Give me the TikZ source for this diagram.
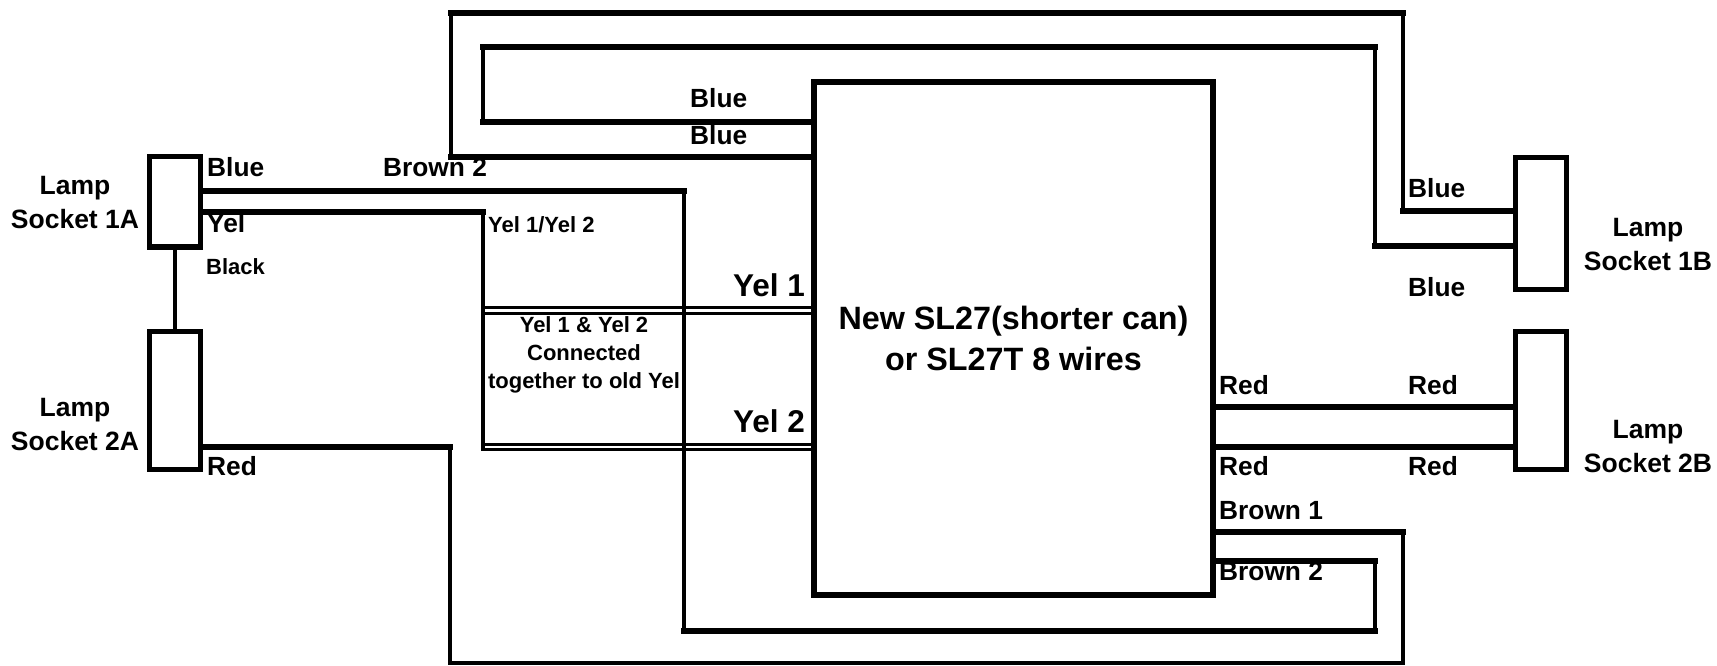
\documentclass[tikz,border=0pt]{standalone}
\usepackage{fontspec}
\setmainfont{Liberation Sans}
\tikzset{
    socket/.style={
    rectangle,draw=black,line width=5.5pt,minimum width=51pt,outer sep=0pt,inner sep=0pt
    },
    ballast/.style={
    rectangle,draw=black,line width=6pt,minimum width=399pt,minimum height=513pt,outer sep=0pt,inner sep=0pt
    },
    hwire/.style={
    line width=5.5pt,line cap=rect
    },
    vwire/.style={
    line width=3.2pt,line cap=rect
    },
    dwire/.style={
    line width=3pt
    },
    lbl/.style={
    anchor=base west,inner sep=0pt,font=\bfseries\fontsize{26.3}{34}\selectfont
    },
    smalllbl/.style={
    lbl,font=\bfseries\fontsize{22}{28}\selectfont
    },
    biglbl/.style={
    lbl,font=\bfseries\fontsize{31.5}{40}\selectfont
    },
    sockettxt/.style={
    anchor=base,align=center,inner sep=0pt,font=\bfseries\fontsize{26.5}{34}\selectfont
    },
}
\begin{document}
\begin{tikzpicture}[x=1pt,y=-1pt]
   \useasboundingbox (0,0) rectangle (1717,665);

   \node[socket,minimum height=90.5pt] (L1A) at (175,201.75) {};
   \node[socket,minimum height=138pt] (L2A) at (175,400.5) {};
   \node[socket,minimum height=132pt] (L1B) at (1541,223.5) {};
   \node[socket,minimum height=138pt] (L2B) at (1541,400.5) {};
   \node[ballast,align=center,font=\bfseries\fontsize{32.3}{41}\selectfont] (SL) at (1013.5,338.5) {New SL27(shorter can)\\or SL27T 8 wires};

   \node[sockettxt] (T1A) at (75,228) {Lamp\\Socket 1A};
   \node[sockettxt] (T2A) at (75,450) {Lamp\\Socket 2A};
   \node[sockettxt] (T1B) at (1648,270) {Lamp\\Socket 1B};
   \node[sockettxt] (T2B) at (1648,472) {Lamp\\Socket 2B};

   % left side
   \node[lbl] (lblue) at (207,176) {Blue};
   \node[lbl] (lbrown) at (383,176) {Brown 2};
   \node[lbl] (lyel) at (207,232) {Yel};
   \node[smalllbl] (lblack) at (206,274) {Black};
   \node[lbl] (lred) at (207,475) {Red};
   \node[smalllbl] (ly12) at (488,232) {Yel 1/Yel 2};
   \node[smalllbl,anchor=base,align=center] (lconn) at (584,388) {Yel 1 \& Yel 2\\Connected\\together to old Yel};
   \node[biglbl] (ly1) at (733,296) {Yel 1};
   \node[biglbl] (ly2) at (733,432) {Yel 2};
   \node[lbl] (lb1) at (690,107) {Blue};
   \node[lbl] (lb2) at (690,144) {Blue};

   % right side
   \node[lbl] (rb1) at (1408,197) {Blue};
   \node[lbl] (rb2) at (1408,296) {Blue};
   \node[lbl] (rr1) at (1219,394) {Red};
   \node[lbl] (rr2) at (1408,394) {Red};
   \node[lbl] (rr3) at (1219,475) {Red};
   \node[lbl] (rr4) at (1408,475) {Red};
   \node[lbl] (rbr1) at (1219,519) {Brown 1};
   \node[lbl] (rbr2) at (1219,580) {Brown 2};

   % wire bends
   \coordinate (Bw1) at (684,191);
   \coordinate (Bw2) at (684,631);
   \coordinate (Bw3) at (1375,631);
   \coordinate (Bw4) at (1375,561);
   \coordinate (Rw1) at (450,447);
   \coordinate (Rw2) at (450,663);
   \coordinate (Rw3) at (1403,663);
   \coordinate (Rw4) at (1403,532);
   \coordinate (Yw1) at (483,212);
   \coordinate (Yw2) at (483,449.3);
   \coordinate (Yw3) at (483,444.7);
   \coordinate (Yw4) at (483,307.5);
   \coordinate (Yw5) at (483,313);
   \coordinate (Uw1) at (451,157);
   \coordinate (Uw2) at (451,13);
   \coordinate (Uw3) at (1403,13);
   \coordinate (Uw4) at (1403,211);
   \coordinate (Iw1) at (483,122);
   \coordinate (Iw2) at (483,47);
   \coordinate (Iw3) at (1375,47);
   \coordinate (Iw4) at (1375,246);
   \coordinate (Dw1) at (1300,407);
   \coordinate (Dw2) at (1300,447);

   \path[hwire,draw]
    (L1A.east |- Bw1) edge (Bw1)
    (Bw2) edge (Bw3)
    (Bw4) edge (SL.east |- Bw4)
    (L2A.east |- Rw1) edge (Rw1)
    (Rw4) edge (SL.east |- Rw4)
    (L1A.east |- Yw1) edge (Yw1)
    (SL.west |- Uw1) edge (Uw1)
    (Uw2) edge (Uw3)
    (Uw4) edge (L1B.west |- Uw4)
    (SL.west |- Iw1) edge (Iw1)
    (Iw2) edge (Iw3)
    (Iw4) edge (L1B.west |- Iw4)
    (SL.east |- Dw1) edge (L2B.west |- Dw1)
    (SL.east |- Dw2) edge (L2B.west |- Dw2);

   \path[vwire,draw]
    (L1A) edge (L2A)
    (Bw1) edge (Bw2)
    (Bw3) edge (Bw4)
    (Rw1) edge (Rw2)
    (Rw2) edge (Rw3)
    (Rw3) edge (Rw4)
    (Yw1) edge (Yw2)
    (Uw1) edge (Uw2)
    (Uw3) edge (Uw4)
    (Iw1) edge (Iw2)
    (Iw3) edge (Iw4);

   \path[dwire,draw]
    (Yw4) edge (SL.west |- Yw4)
    (Yw5) edge (SL.west |- Yw5)
    (Yw3) edge (SL.west |- Yw3)
    (Yw2) edge (SL.west |- Yw2);
\end{tikzpicture}
\end{document}
